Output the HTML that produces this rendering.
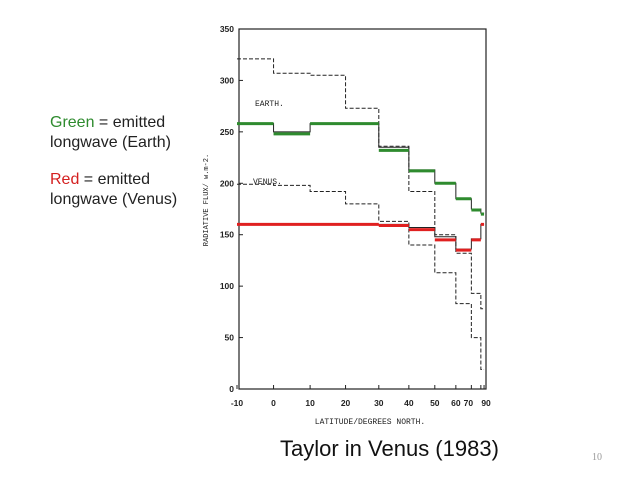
<!DOCTYPE html>
<html><head><meta charset="utf-8"><style>
body{margin:0;width:640px;height:480px;background:#fff;overflow:hidden;font-family:"Liberation Sans",Arial,sans-serif}
.t{position:absolute;left:50px;font-size:16px;color:#222;line-height:20px}
</style></head><body>
<div class="t" style="top:113px"><span style="color:#2e8b2e">Green</span> = emitted<br>longwave (Earth)</div>
<div class="t" style="top:170px"><span style="color:#d42020">Red</span> = emitted<br>longwave (Venus)</div>
<div style="position:absolute;left:280px;top:436px;font-size:22px;color:#111">Taylor in Venus (1983)</div>
<div style="position:absolute;left:592px;top:452px;font-size:10px;color:#999;font-family:'Liberation Serif',serif">10</div>
<svg id="c" width="640" height="480" style="position:absolute;left:0;top:0"></svg>
<script>
const yTicks=[0,50,100,150,200,250,300,350];
const xTicks=[-10,0,10,20,30,40,50,60,70,80,90];
const xTickLabels=["-10","0","10","20","30","40","50","60","70","80","90"];
const edges=[-10,0,10,20,30,40,50,60,70,80,90];
const earthGreen=[258,248,258,258,232,212,200,185,174,170];
const earthBlack=[258,250,258,258,235,213,200,185,175,171];
const venusRed=[160,160,160,160,159,155,145,135,145,160];
const venusBlack=[160,160,160,160,160,157,148,136,146,160];
const earthDashed=[321,307,305,273,236,192,150,132,93,78];
const venusDashed=[199,198,192,180,163,140,113,83,50,19];
const S="http://www.w3.org/2000/svg";
const svg=document.getElementById('c');
const X=l=>237+(Math.sin(l*Math.PI/180)+Math.sin(10*Math.PI/180))*210.5;
const Y=v=>389-v*1.0286;
function el(t,a,p){const e=document.createElementNS(S,t);for(const k in a)e.setAttribute(k,a[k]);(p||svg).appendChild(e);return e;}
function step(vals){let d="";for(let i=0;i<vals.length;i++){const x0=X(edges[i]),x1=X(edges[i+1]),y=Y(vals[i]);d+=(i?"L":"M")+x0+","+y+"L"+x1+","+y;}return d;}
function horiz(vals){let d="";for(let i=0;i<vals.length;i++){const x0=X(edges[i]),x1=X(edges[i+1]),y=Y(vals[i]);d+="M"+x0+","+y+"L"+x1+","+y;}return d;}
const frame=el('rect',{x:239,y:29,width:247,height:360,fill:'none',stroke:'#222','stroke-width':1.2});


yTicks.forEach(v=>{
 const l=el('line',{x1:239,x2:243,y1:Y(v),y2:Y(v),stroke:'#222'});
 
 
 const t=el('text',{x:234,y:Y(v)+3,'text-anchor':'end','font-size':8.5,'font-family':'Liberation Sans, sans-serif','font-weight':'bold',fill:'#222'});
 t.textContent=v;
 
 
});
xTicks.forEach((v,i)=>{
 const l=el('line',{x1:X(v),x2:X(v),y1:389,y2:385,stroke:'#222'});
 
 
 if(v===80)return;
 const t=el('text',{x:X(v)+(v===70?-3:v===90?2:0),y:406,'text-anchor':'middle','font-size':8.5,'font-family':'Liberation Sans, sans-serif','font-weight':'bold',fill:'#222'});
 t.textContent=xTickLabels[i];
 
 
});
const xl=el('text',{x:370,y:424,'text-anchor':'middle','font-size':8,'font-family':'Liberation Mono, monospace',fill:'#222'});
xl.textContent="LATITUDE/DEGREES NORTH.";


const yl=el('text',{x:0,y:0,'text-anchor':'middle','font-size':7,'font-family':'Liberation Mono, monospace',fill:'#222',transform:'translate(208,200) rotate(-90)'});
yl.textContent="RADIATIVE FLUX/ w.m-2.";


[["EARTH.",255,106],["VENUS.",253,184]].forEach(a=>{
 const t=el('text',{x:a[1],y:a[2],'font-size':8,'font-family':'Liberation Mono, monospace',fill:'#222'});
 t.textContent=a[0];
 
 
});
const p1=el('path',{d:step(earthDashed),fill:'none',stroke:'#222','stroke-dasharray':'4,2','stroke-width':1});


const p2=el('path',{d:step(venusDashed),fill:'none',stroke:'#222','stroke-dasharray':'4,2','stroke-width':1});


const p3=el('path',{d:step(earthBlack),fill:'none',stroke:'#222','stroke-width':1});


const p3b=el('path',{d:step(venusBlack),fill:'none',stroke:'#222','stroke-width':1});


const p4=el('path',{d:horiz(earthGreen),fill:'none',stroke:'#2e8b2e','stroke-width':3});


const p5=el('path',{d:horiz(venusRed),fill:'none',stroke:'#e02020','stroke-width':3});


</script>
</body></html>
